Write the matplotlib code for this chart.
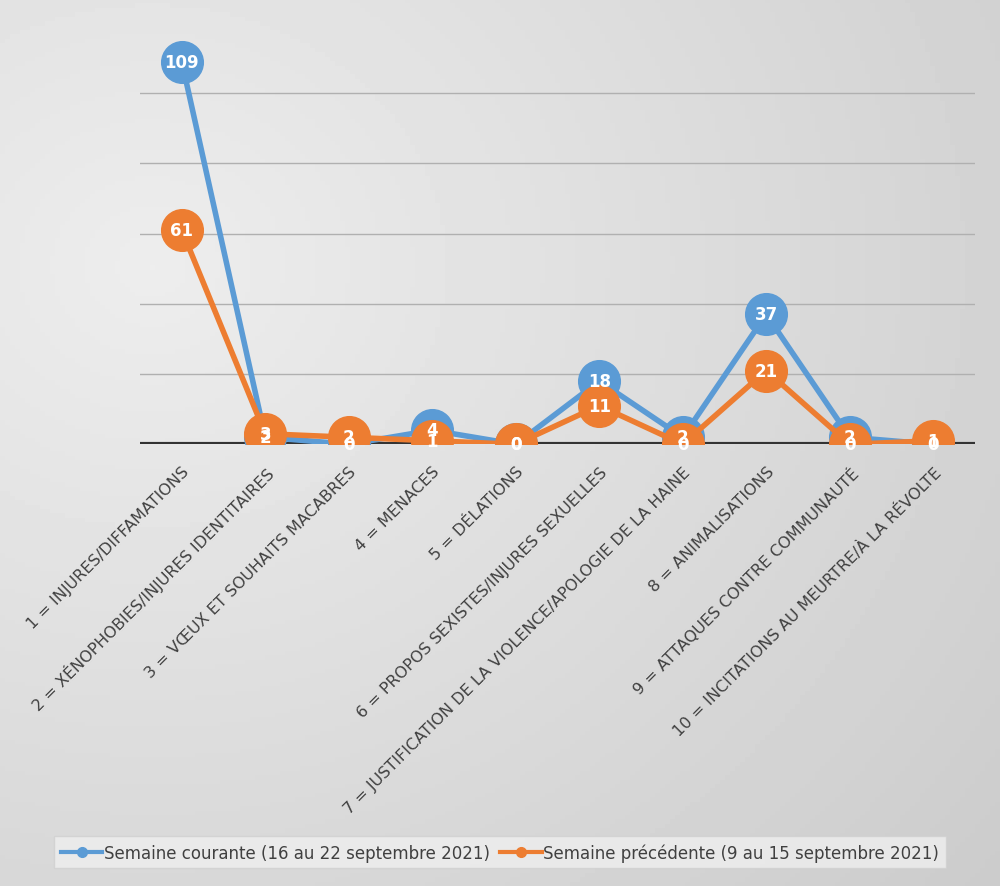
import matplotlib
matplotlib.use("Agg")
import matplotlib.pyplot as plt
import numpy as np

categories = ["1 = INJURES/DIFFAMATIONS", "2 = XÉNOPHOBIES/INJURES IDENTITAIRES",
              "3 = VŒUX ET SOUHAITS MACABRES", "4 = MENACES", "5 = DÉLATIONS",
              "6 = PROPOS SEXISTES/INJURES SEXUELLES",
              "7 = JUSTIFICATION DE LA VIOLENCE/APOLOGIE DE LA HAINE",
              "8 = ANIMALISATIONS", "9 = ATTAQUES CONTRE COMMUNAUTÉ",
              "10 = INCITATIONS AU MEURTRE/À LA RÉVOLTE"]
courante = [109, 2, 0, 4, 0, 18, 2, 37, 2, 0]
precedente = [61, 3, 2, 1, 0, 11, 0, 21, 0, 1]
label_courante = "Semaine courante (16 au 22 septembre 2021)"
label_precedente = "Semaine précédente (9 au 15 septembre 2021)"

fig = plt.figure(figsize=(10, 8.87), dpi=100)
bg = fig.add_axes([0, 0, 1, 1], zorder=-10)
bg.axis("off")
yy, xx = np.mgrid[0:1:200j, 0:1:200j]
img = 0.93 - 0.12 * np.sqrt((xx - 0.15) ** 2 + (yy - 0.3) ** 2)
bg.imshow(img, cmap="gray", vmin=0, vmax=1, aspect="auto", extent=[0, 1, 0, 1])

ax = fig.add_axes([0.14, 0.498, 0.835, 0.475])
ax.set_facecolor("none")
x = np.arange(len(categories))
ax.set_ylim(0, 120)
ax.set_xlim(-0.5, len(categories) - 0.5)
for v in range(20, 101, 20):
    ax.axhline(v, color="#b0b0b0", lw=1, zorder=0)
ax.axhline(0, color="#333333", lw=3, zorder=1)
blue = "#5b9bd5"; orange = "#ed7d31"
ax.plot(x, courante, color=blue, lw=4, marker="o", ms=30, zorder=3, label=label_courante)
ax.plot(x, precedente, color=orange, lw=4, marker="o", ms=30, zorder=4, label=label_precedente)
for xi, v in zip(x, courante):
    ax.text(xi, v, str(v), color="white", ha="center", va="center", fontsize=12, fontweight="bold", zorder=5)
for xi, v in zip(x, precedente):
    ax.text(xi, v, str(v), color="white", ha="center", va="center", fontsize=12, fontweight="bold", zorder=6)
for s in ax.spines.values():
    s.set_visible(False)
ax.set_yticks([])
ax.set_xticks(x)
ax.set_xticklabels(categories, rotation=45, ha="right", rotation_mode="anchor", fontsize=11.5, color="#404040")
ax.tick_params(axis="x", length=0, pad=14)
leg = fig.legend(handles=[plt.Line2D([], [], color=blue, lw=3, marker="o", ms=7),
                          plt.Line2D([], [], color=orange, lw=3, marker="o", ms=7)],
                 labels=[label_courante, label_precedente], loc="center",
                 bbox_to_anchor=(0.5, 0.038), ncol=2, fontsize=12, frameon=True,
                 fancybox=False, edgecolor="#d0d0d0", facecolor="#efefef",
                 handlelength=2.5, columnspacing=0.6, handletextpad=0.1)
for t in leg.get_texts():
    t.set_color("#404040")
fig.savefig("out.png", dpi=100)
